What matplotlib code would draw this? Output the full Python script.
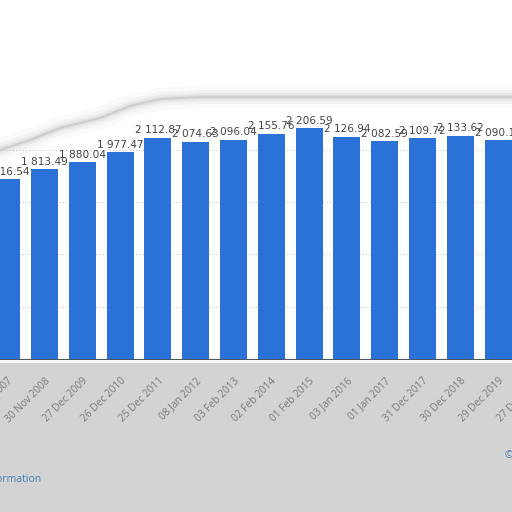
import matplotlib; matplotlib.use('Agg')
import matplotlib.pyplot as plt
from matplotlib.patches import Rectangle
from matplotlib.lines import Line2D
import numpy as np

CATS = ['02 Dec 2007', '30 Nov 2008', '27 Dec 2009', '26 Dec 2010', '25 Dec 2011',
        '08 Jan 2012', '03 Feb 2013', '02 Feb 2014', '01 Feb 2015', '03 Jan 2016',
        '01 Jan 2017', '31 Dec 2017', '30 Dec 2018', '29 Dec 2019', '27 Dec 2020']
VALS = [1716.54, 1813.49, 1880.04, 1977.47, 2112.87, 2074.63, 2096.04, 2155.76,
        2206.59, 2126.94, 2082.59, 2109.72, 2133.62, 2090.11, 2100.00]

C_BAR = '#2a72d8'; C_TXT = '#444444'; C_TICK = '#7a7a7a'; C_BOT = '#d3d3d3'
plt.rcParams['font.family'] = ['Open Sans', 'DejaVu Sans']

def fmt(v):
    return f"{v:,.2f}".replace(',', ' ')

W = 512
fig = plt.figure(figsize=(5.12, 5.12), dpi=100)
fig.patch.set_facecolor('white')
# grey screenshot area under the axis
fig.add_artist(Rectangle((0, 0), 1, (W-363)/W, transform=fig.transFigure,
                         facecolor=C_BOT, edgecolor='none', zorder=-2))
# blurred shadow at top (screenshot artefact)
px = np.array([0, 30, 60, 100, 130, 160, 200, 512])
py = np.array([150, 140, 128, 118, 106, 99, 97, 97])
for lw, a in [(16, 0.04), (10, 0.06), (6, 0.08), (3, 0.12), (1.2, 0.2)]:
    fig.add_artist(Line2D(px/W, 1-py/W, transform=fig.transFigure, color='#8a8a8a',
                          lw=lw, alpha=a, solid_capstyle='round', zorder=-1))

step = 37.8
left = 6.7 - step/2
ax = fig.add_axes([left/W, (W-359)/W, 15*step/W, 261.5/W])
ax.set_facecolor('none')
x = np.arange(len(CATS))
ax.bar(x, VALS, width=0.71, color=C_BAR, zorder=3)
for xi, v in zip(x, VALS):
    ax.text(xi, v+25, fmt(v), ha='center', va='bottom', fontsize=7.6,
            color=C_TXT, family='DejaVu Sans', zorder=4)
ax.set_xlim(-0.5, len(CATS)-0.5)
ax.set_ylim(0, 2500)
ax.set_yticks([500, 1000, 1500, 2000])
ax.yaxis.grid(True, color='#c8c8c8', lw=0.8, ls=(0, (1, 2)), zorder=0)
ax.tick_params(axis='y', left=False, labelleft=False)
ax.set_xticks(x)
ax.set_xticklabels(CATS, rotation=45, ha='right', rotation_mode='anchor',
                   fontsize=7.3, color=C_TICK)
ax.tick_params(axis='x', length=0, pad=12)
for sp in ['top', 'right', 'left']:
    ax.spines[sp].set_visible(False)
ax.spines['bottom'].set_color('#4a5560'); ax.spines['bottom'].set_linewidth(0.8)

fig.text(41/W, 1-479/W, 'Additional Information', ha='right', va='center',
         fontsize=7.5, color='#4a7cb0')
fig.text(505/W, 1-456/W, '\u00a9 Statista 2021', ha='left', va='center',
         fontsize=7.5, color='#4a7cb0')
fig.savefig('out.png', dpi=100)
